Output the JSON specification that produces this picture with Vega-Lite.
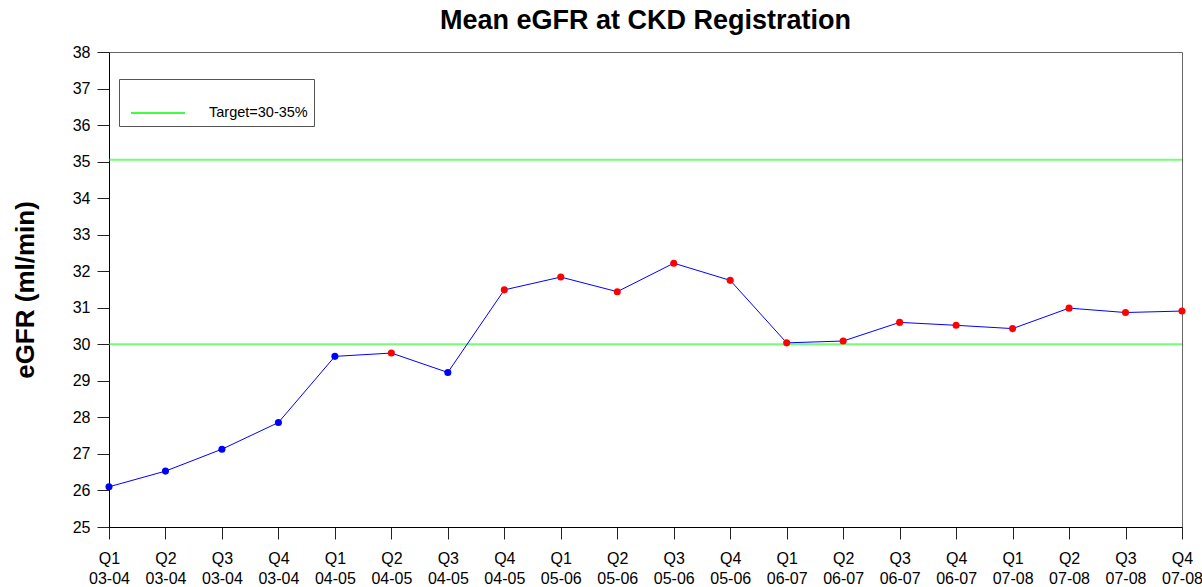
{
  "$schema": "https://vega.github.io/schema/vega-lite/v6.json",
  "width": 1073,
  "height": 475,
  "autosize": {"type": "none"},
  "padding": {"left": 109, "top": 52, "right": 20, "bottom": 60},
  "background": "white",
  "title": {"text": "Mean eGFR at CKD Registration", "fontSize": 27, "fontWeight": "bold", "font": "Liberation Sans", "anchor": "middle", "offset": 9, "color": "black"},
  "data": {"values": [
      {"period": "Q1|03-04", "value": 26.1, "grp": "blue"},
      {"period": "Q2|03-04", "value": 26.53, "grp": "blue"},
      {"period": "Q3|03-04", "value": 27.13, "grp": "blue"},
      {"period": "Q4|03-04", "value": 27.86, "grp": "blue"},
      {"period": "Q1|04-05", "value": 29.67, "grp": "blue"},
      {"period": "Q2|04-05", "value": 29.76, "grp": "red"},
      {"period": "Q3|04-05", "value": 29.23, "grp": "blue"},
      {"period": "Q4|04-05", "value": 31.49, "grp": "red"},
      {"period": "Q1|05-06", "value": 31.84, "grp": "red"},
      {"period": "Q2|05-06", "value": 31.44, "grp": "red"},
      {"period": "Q3|05-06", "value": 32.22, "grp": "red"},
      {"period": "Q4|05-06", "value": 31.75, "grp": "red"},
      {"period": "Q1|06-07", "value": 30.04, "grp": "red"},
      {"period": "Q2|06-07", "value": 30.09, "grp": "red"},
      {"period": "Q3|06-07", "value": 30.6, "grp": "red"},
      {"period": "Q4|06-07", "value": 30.52, "grp": "red"},
      {"period": "Q1|07-08", "value": 30.43, "grp": "red"},
      {"period": "Q2|07-08", "value": 30.99, "grp": "red"},
      {"period": "Q3|07-08", "value": 30.87, "grp": "red"},
      {"period": "Q4|07-08", "value": 30.91, "grp": "red"}
  ]},
  "encoding": {
    "x": {"field": "period", "type": "ordinal", "sort": null, "scale": {"type": "point", "padding": 0},
      "axis": {"title": null, "labelExpr": "split(datum.label, '|')", "labelFontSize": 16, "labelLineHeight": 20, "labelAngle": 0, "tickSize": 12, "labelPadding": 11, "labelFlush": false, "labelOverlap": false, "labelBound": false, "grid": false, "domainColor": "black", "tickColor": "#222", "labelColor": "black", "labelFont": "Liberation Sans"}},
    "y": {"field": "value", "type": "quantitative", "scale": {"domain": [25, 38], "nice": false, "zero": false},
      "axis": {"title": "eGFR (ml/min)", "values": [25,26,27,28,29,30,31,32,33,34,35,36,37,38], "labelOverlap": false, "labelFontSize": 16, "labelFlush": false, "tickSize": 12, "labelPadding": 7, "grid": false, "domainColor": "black", "tickColor": "#222", "labelColor": "black", "labelFont": "Liberation Sans", "titleFontSize": 26, "titleFontWeight": "bold", "titleFont": "Liberation Sans", "titleColor": "black", "titlePadding": 34}}
  },
  "layer": [
    {
      "data": {"values": [
        {"target": 30, "label": "Target=30-35%"},
        {"target": 35.05, "label": "Target=30-35%"}
      ]},
      "mark": {"type": "rule", "strokeWidth": 2, "opacity": 0.55},
      "encoding": {
        "x": null,
        "y": {"field": "target", "type": "quantitative"},
        "stroke": {"field": "label", "type": "nominal", "scale": {"range": ["#00ff00"]},
          "legend": {"orient": "none", "legendX": 10, "legendY": 27, "title": null, "symbolType": "stroke", "symbolSize": 2916, "symbolStrokeWidth": 1.5, "symbolOpacity": 1, "symbolOffset": 5, "labelFontSize": 14.5, "labelOffset": 23, "padding": 6, "strokeColor": "#555", "labelColor": "black", "labelFont": "Liberation Sans"}}
      }
    },
    {
      "mark": {"type": "line", "color": "#0000ff", "strokeWidth": 1}
    },
    {
      "mark": {"type": "circle", "size": 50, "opacity": 1},
      "encoding": {
        "color": {"field": "grp", "type": "nominal", "scale": {"domain": ["blue", "red"], "range": ["#0000ff", "#ff0000"]}, "legend": null}
      }
    }
  ],
  "config": {
    "view": {"stroke": "#666", "strokeWidth": 1}
  }
}
